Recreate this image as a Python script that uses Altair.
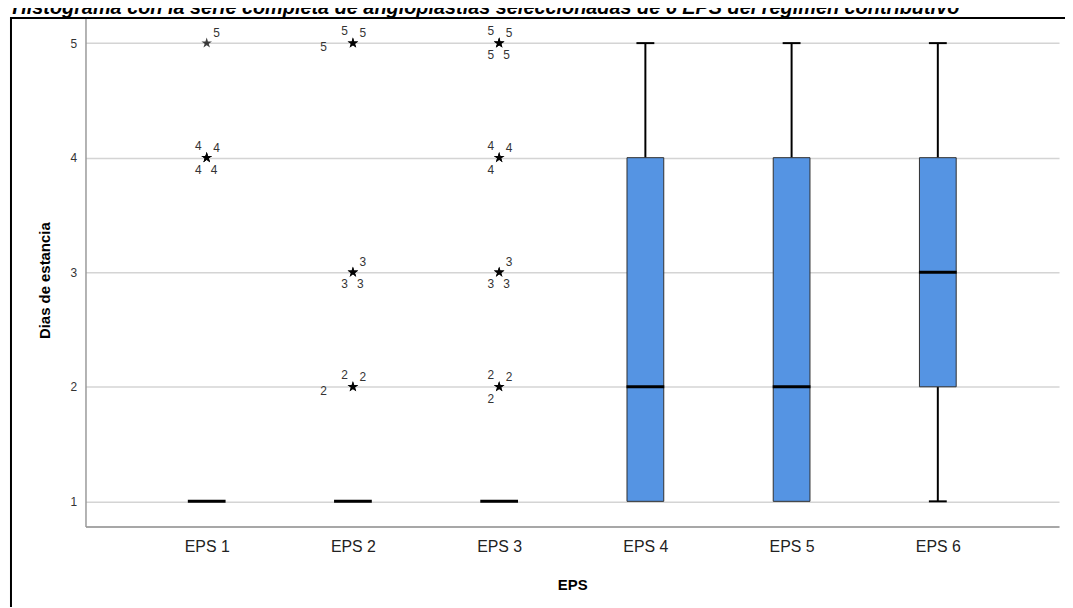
import altair as alt
import pandas as pd

# ---- data ----
eps = ["EPS 1", "EPS 2", "EPS 3", "EPS 4", "EPS 5", "EPS 6"]
q1 = [1, 1, 1, 1, 1, 2]
median = [1, 1, 1, 2, 2, 3]
q3 = [1, 1, 1, 4, 4, 4]
whisker_lo = [1, 1, 1, 1, 1, 1]
whisker_hi = [1, 1, 1, 5, 5, 5]

# extreme values (one row per labelled case) and where SPSS put the label
out_eps = (["EPS 1"] * 5 + ["EPS 2"] * 9 + ["EPS 3"] * 13)
out_value = [5, 4, 4, 4, 4,
             5, 5, 5, 3, 3, 3, 2, 2, 2,
             5, 5, 5, 5, 4, 4, 4, 3, 3, 3, 2, 2, 2]
out_label = [str(v) for v in out_value]
out_pos = ["UR", "UL", "UR", "LL", "LR",
           "UL", "UR", "FL", "UR", "LL", "LR", "UL", "UR", "FL",
           "UL", "UR", "LL", "LR", "UL", "UR", "LL", "UR", "LL", "LR", "UL", "UR", "LL"]

title_text = "Histograma con la serie completa de angioplastias seleccionadas  de 6 EPS del régimen contributivo"

box_df = pd.DataFrame({"EPS": eps, "q1": q1, "median": median, "q3": q3,
                       "lo": whisker_lo, "hi": whisker_hi})
out_df = pd.DataFrame({"EPS": out_eps, "value": out_value, "label": out_label, "pos": out_pos})
one = pd.DataFrame({"t": [title_text]})

W, H = 980, 512
FONT = "Liberation Sans"

xs = alt.Scale(type="point", domain=eps, padding=0.829)
ys = alt.Scale(domain=[0.78, 5.22], nice=False, zero=False)

x_enc = alt.X("EPS:N", scale=xs, sort=eps,
              axis=alt.Axis(title="EPS", labelAngle=0, ticks=False, grid=False,
                            domainColor="#8a8a8a", domainWidth=1.5,
                            labelFont=FONT, labelFontSize=16, labelColor="#222222",
                            labelPadding=12,
                            titleFont=FONT, titleFontSize=15, titleFontWeight="bold",
                            titleColor="#000000", titleY=58, titleBaseline="middle"))
y_axis = alt.Axis(title="Dias de estancia", values=[1, 2, 3, 4, 5], format="d",
                  ticks=False, grid=True, gridColor="#d4d4d4", gridWidth=1.5,
                  domainColor="#9a9a9a", domainWidth=1.5,
                  labelFont=FONT, labelFontSize=12, labelColor="#333333", labelPadding=9,
                  titleFont=FONT, titleFontSize=15, titleFontWeight="bold",
                  titleColor="#000000", titleX=-41, titleY=264, titleBaseline="middle")

base = alt.Chart(box_df)

frame = alt.Chart(one).mark_rect(fillOpacity=0, stroke="#000000", strokeWidth=2).encode(
    x=alt.value(-75), x2=alt.value(2000), y=alt.value(0), y2=alt.value(2000))

title = alt.Chart(one).mark_text(font=FONT, fontSize=20, fontWeight="bold", fontStyle="italic",
                                 baseline="alphabetic", align="center", color="#000000").encode(
    x=alt.value(403), y=alt.value(-3.5), text="t:N")

whisk_up = base.mark_rule(color="#000000", strokeWidth=2).encode(
    x=x_enc, y=alt.Y("q3:Q", scale=ys, axis=y_axis), y2="hi:Q")
whisk_lo = base.mark_rule(color="#000000", strokeWidth=2).encode(
    x=alt.X("EPS:N", scale=xs, sort=eps), y=alt.Y("lo:Q", scale=ys), y2="q1:Q")

cap_hi = base.transform_filter("datum.hi > datum.q3").mark_tick(
    size=18, thickness=2, color="#000000", opacity=1).encode(
    x=alt.X("EPS:N", scale=xs, sort=eps), y=alt.Y("hi:Q", scale=ys))
cap_lo = base.transform_filter("datum.lo < datum.q1").mark_tick(
    size=18, thickness=2, color="#000000", opacity=1).encode(
    x=alt.X("EPS:N", scale=xs, sort=eps), y=alt.Y("lo:Q", scale=ys))

boxes = base.transform_filter("datum.q3 > datum.q1").mark_bar(
    size=37, fill="#5594E3", stroke="#2f2f2f", strokeWidth=1).encode(
    x=alt.X("EPS:N", scale=xs, sort=eps), y=alt.Y("q1:Q", scale=ys), y2="q3:Q")

med = base.mark_tick(size=38, thickness=3, color="#000000", opacity=1).encode(
    x=alt.X("EPS:N", scale=xs, sort=eps), y=alt.Y("median:Q", scale=ys))

star_path = ("M0,-1L0.2245,-0.309L0.951,-0.309L0.363,0.118L0.588,0.809L0,0.382"
             "L-0.588,0.809L-0.363,0.118L-0.951,-0.309L-0.2245,-0.309Z")
stars = alt.Chart(out_df).mark_point(shape=star_path, filled=True, size=125,
                                     color="#000000", opacity=0.75, strokeWidth=0).encode(
    x=alt.X("EPS:N", scale=xs, sort=eps), y=alt.Y("value:Q", scale=ys))

offsets = {"UL": (-8.5, -12), "UR": (10, -10), "LL": (-8.5, 12), "LR": (7.5, 12), "FL": (-29.5, 4)}
label_layers = []
for p, (dx, dy) in offsets.items():
    label_layers.append(
        alt.Chart(out_df).transform_filter(alt.datum.pos == p).mark_text(
            font=FONT, fontSize=12, color="#333333", dx=dx, dy=dy,
            align="center", baseline="middle").encode(
            x=alt.X("EPS:N", scale=xs, sort=eps), y=alt.Y("value:Q", scale=ys),
            text="label:N"))

chart = alt.layer(frame, title, whisk_up, whisk_lo, cap_hi, cap_lo, boxes, med, stars,
                  *label_layers).properties(
    width=W, height=H,
    autosize=alt.AutoSizeParams(type="none"),
    padding={"left": 78, "top": 8, "right": 6, "bottom": 79},
    background="#ffffff",
).configure_view(stroke=None)

chart.save("out.html", embed_options={"renderer": "svg", "actions": False})
